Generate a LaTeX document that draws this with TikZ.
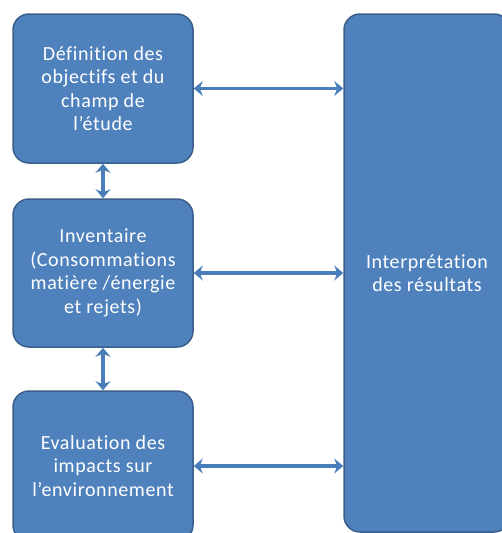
\documentclass[tikz,border=0pt]{standalone}
\usepackage{fontspec}
\setmainfont{Carlito}[Ligatures={NoCommon,NoRequired,NoContextual},LetterSpace=3]
\usetikzlibrary{arrows.meta,calc}
\definecolor{boxfill}{HTML}{4F81BD}
\definecolor{boxline}{HTML}{3A5F8B}
\definecolor{arrowcol}{HTML}{4A7EBB}
\tikzset{
  stagebox/.style={draw=boxline, line width=1.5pt, fill=boxfill, rounded corners=16pt,
    text=white, align=center, inner sep=0pt,
    font=\fontsize{20}{23.5}\selectfont},
  link/.style={draw=arrowcol, line width=3.5pt, {Stealth[length=9pt,width=15pt,inset=3pt]}-{Stealth[length=9pt,width=15pt,inset=3pt]}}
}
\begin{document}
\begin{tikzpicture}[x=1pt,y=-1pt]
\useasboundingbox (0,0) rectangle (502,533);
\clip (0,0) rectangle (502,533);
\node[stagebox, minimum width=180pt, minimum height=149pt] (def) at (103,88.5)
  {Définition des\\objectifs et du\\champ de\\l’étude};
\node[stagebox, minimum width=180pt, minimum height=148pt] (inv) at (103,273)
  {Inventaire\\(Consommations\\matière /énergie\\et rejets)};
\node[stagebox, minimum width=180pt, minimum height=150pt] (eva) at (103,466)
  {Evaluation des\\impacts sur\\l’environnement};
\node[stagebox, minimum width=166pt, minimum height=518pt] (int) at (427,273)
  {Interprétation\\des résultats};
\draw[link] (def.east) -- (int.west |- def.east);
\draw[link] (inv.east) -- (int.west |- inv.east);
\draw[link] (eva.east) -- (int.west |- eva.east);
\draw[link] (def.south) -- (inv.north);
\draw[link] (inv.south) -- (eva.north);
\end{tikzpicture}
\end{document}
